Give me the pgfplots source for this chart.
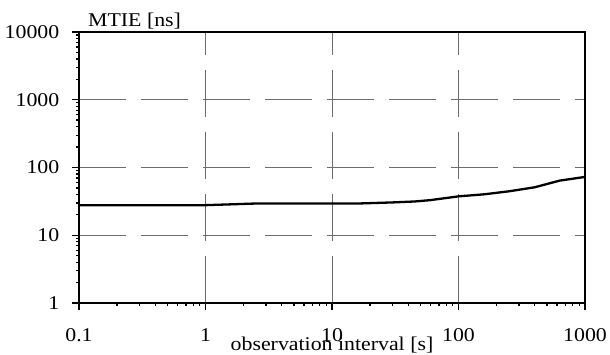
\documentclass[border=0pt]{standalone}
\usepackage{fontspec}
\setmainfont{Liberation Serif}[FakeStretch=1.12]
\usepackage{pgfplots}
\pgfplotsset{compat=1.18}
\begin{document}
\fontsize{19.5}{23}\selectfont
\begin{tikzpicture}
\begin{axis}[
  at={(0pt,0pt)}, anchor=south west,
  scale only axis, width=506pt, height=271pt,
  xmode=log, ymode=log,
  xmin=0.1, xmax=1000, ymin=1, ymax=10000,
  xtick={0.1,1,10,100,1000}, xticklabels={0.1,1,10,100,1000},
  ytick={1,10,100,1000,10000}, yticklabels={1,10,100,1000,10000},
  minor tick num=0, minor xtick={}, minor ytick={},
  xtick pos=bottom, ytick pos=left,
  tick align=outside, major tick length=7pt,
  tick style={black, line width=1.3pt},
  axis line style={black, line width=2.8pt},
  grid=major,
  major grid style={draw=gray!85!black, line width=0.9pt, dash pattern=on 47pt off 15pt},
  xticklabel style={font=\fontsize{19.5}{23}\selectfont, yshift=-11.5pt},
  yticklabel style={font=\fontsize{19.5}{23}\selectfont, xshift=-6pt},
  xlabel={observation interval [s]},
  xlabel style={at={(axis description cs:0.5,0)}, anchor=base, inner sep=0pt, yshift=-48pt, font=\fontsize{19.5}{23}\selectfont},
  clip=false,
]
\addplot[black, line width=2.3pt] coordinates {
 (0.1,27.8) (1,27.8) (1.6,28.6) (2.5,29.4) (10,29.4) (16,29.4) (30,30.5) (45,31.5) (60,33.0) (100,37.5) (160,40.2) (250,44.5) (400,51) (630,64) (1000,72.6)
};
\node[anchor=base west, inner sep=0pt, font=\fontsize{19.5}{23}\selectfont] at (axis description cs:0,1) [xshift=9pt, yshift=5pt] {MTIE [ns]};
\end{axis}
\pgfresetboundingbox
\path[use as bounding box] (-79pt,-52pt) rectangle (531pt,303pt);
\end{tikzpicture}
\end{document}
